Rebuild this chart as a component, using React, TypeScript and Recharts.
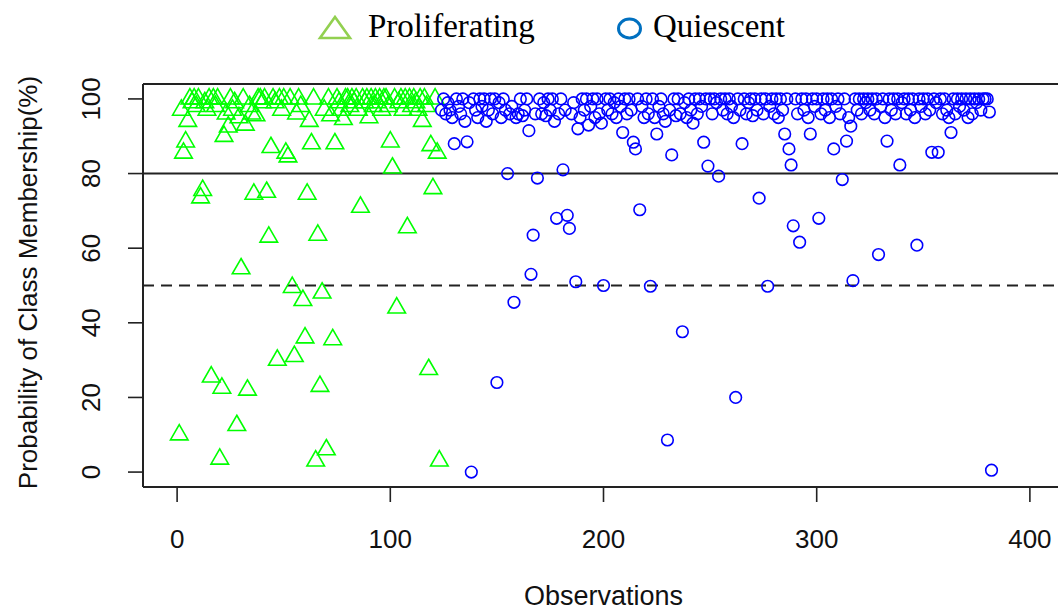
import React from 'react';
import { ScatterChart, Scatter, XAxis, YAxis, ReferenceLine } from 'recharts';

// Posterior probability (%) of class membership, one value per observation.
// Observations 1..123 are classed as proliferating.
const PROLIFERATING: number[] = [
  10, 97, 85.5, 88.5, 94, 100, 99, 100, 98, 100,
  73.5, 75.5, 99, 97, 100, 25.5, 100, 98, 100, 3.5,
  22.5, 90, 96, 92.5, 100, 97, 99, 12.5, 95, 54.5,
  100, 93, 22, 98, 96, 74.5, 95.5, 100, 100, 99,
  100, 75, 63, 87, 100, 99, 30, 100, 97, 100,
  85.5, 84.5, 100, 49.5, 31, 96, 100, 98, 46, 36,
  74.5, 94, 88, 100, 3, 63.5, 23, 48, 97, 6,
  100, 95.5, 35.5, 88, 100, 99, 97, 94.5, 100, 100,
  98, 100, 99, 100, 97, 71, 100, 99, 100, 95,
  100, 98, 100, 99, 100, 97, 100, 100, 98, 88.5,
  81.5, 100, 44, 99, 100, 97, 100, 65.5, 100, 98,
  100, 99, 97, 100, 94, 100, 98, 27.5, 87.5, 76,
  100, 85.5, 3,
];

// Observations 124..382 are classed as quiescent.
const QUIESCENT_FIRST_OBS = 124;
const QUIESCENT: number[] = [
  97, 100, 96, 99, 97, 95, 88, 100, 98, 96,
  100, 94, 88.5, 99, 0, 100, 97, 95, 100, 98,
  100, 94, 97, 100, 96, 100, 24, 99, 95, 100,
  97, 80, 96, 98, 45.5, 95, 96, 100, 95.5, 97,
  100, 91.5, 53, 63.5, 96, 78.8, 100, 96, 99, 95.5,
  100, 97, 100, 94, 68, 96, 100, 81, 97, 68.8,
  65.3, 96, 99, 51, 92, 95, 100, 97, 100, 93,
  98, 100, 95, 100, 96, 93.5, 50, 100, 97, 100,
  96, 99, 95, 100, 98, 91, 100, 96, 100, 97,
  88.4, 86.6, 100, 70.3, 98, 95, 100, 96, 49.8, 100,
  95, 90.6, 98, 100, 96, 94, 8.6, 97, 85, 100,
  95.5, 100, 96, 37.6, 99, 95, 100, 97, 93.5, 100,
  96, 100, 98, 88.4, 100, 82, 100, 96, 100, 99,
  79.3, 100, 97, 100, 96, 100, 98, 95, 20, 100,
  97, 88, 100, 96, 99, 100, 95.5, 100, 97, 73.4,
  100, 96, 100, 49.8, 98, 100, 96, 100, 95, 100,
  97, 90.6, 100, 86.6, 82.3, 66, 100, 96, 61.6, 100,
  97, 100, 95, 90.6, 100, 98, 100, 68, 96, 100,
  97, 100, 95, 100, 86.6, 98, 100, 96, 78.4, 100,
  88.7, 95, 92.7, 51.3, 100, 97, 100, 96, 100, 99,
  100, 97, 100, 96, 100, 58.3, 98, 100, 95, 88.7,
  100, 97, 100, 96, 100, 82.3, 99, 100, 96, 100,
  97, 100, 95, 60.8, 100, 98, 100, 96, 100, 97,
  85.7, 100, 99, 85.7, 100, 96, 100, 97, 95, 91,
  100, 96, 100, 98, 100, 97, 100, 95, 100, 96,
  100, 99, 100, 97, 100, 100, 100, 96.5, 0.5,
];

const X_TICKS = [0, 100, 200, 300, 400];
const Y_TICKS = [0, 20, 40, 60, 80, 100];
const X_DOMAIN: [number, number] = [-16, 416];
const Y_DOMAIN: [number, number] = [-4, 104];
const SOLID_CUTOFF = 80;
const DASHED_CUTOFF = 50;

const LEGEND_PROLIFERATING = 'Proliferating';
const LEGEND_QUIESCENT = 'Quiescent';
const X_TITLE = 'Observations';
const Y_TITLE = 'Probability of Class Membership(%)';

const proliferatingPoints = PROLIFERATING.map((y, i) => ({ x: i + 1, y }));
const quiescentPoints = QUIESCENT.map((y, i) => ({ x: i + QUIESCENT_FIRST_OBS, y }));

const WIDTH = 1058;
const HEIGHT = 613;
const AXIS_FONT = "'Liberation Sans', Arial, sans-serif";
const LEGEND_FONT = "'Liberation Serif', 'Times New Roman', serif";
const INK = '#222222';
const TEXT = '#111111';

// Open triangle, centred on its centroid.
function TriangleMark(props: any) {
  const { cx, cy } = props;
  if (cx == null || cy == null) return null;
  const up = 10.2;
  const down = 5.1;
  const half = 8.8;
  return (
    <path
      d={`M${cx},${cy - up}L${cx + half},${cy + down}L${cx - half},${cy + down}Z`}
      fill="none"
      stroke="#00ff00"
      strokeWidth={1.6}
      strokeLinejoin="miter"
    />
  );
}

// Open circle.
function CircleMark(props: any) {
  const { cx, cy } = props;
  if (cx == null || cy == null) return null;
  return <circle cx={cx} cy={cy} r={5.8} fill="none" stroke="#0000ff" strokeWidth={1.6} />;
}

function XTick(props: any) {
  const { x, y, payload } = props;
  return (
    <text
      x={x}
      y={y + 46}
      textAnchor="middle"
      fontFamily={AXIS_FONT}
      fontSize={26}
      fill={TEXT}
    >
      {payload.value}
    </text>
  );
}

function YTick(props: any) {
  const { x, y, payload } = props;
  return (
    <text
      transform={`translate(${x - 28},${y}) rotate(-90)`}
      textAnchor="middle"
      fontFamily={AXIS_FONT}
      fontSize={26}
      fill={TEXT}
    >
      {payload.value}
    </text>
  );
}

function XTitle(props: any) {
  const { viewBox } = props;
  const cx = viewBox.x + viewBox.width / 2;
  return (
    <text x={cx} y={605} textAnchor="middle" fontFamily={AXIS_FONT} fontSize={27} fill={TEXT}>
      {X_TITLE}
    </text>
  );
}

function YTitle(props: any) {
  const { viewBox } = props;
  const cy = viewBox.y + viewBox.height / 2;
  return (
    <text
      transform={`translate(37,${cy - 3}) rotate(-90)`}
      textAnchor="middle"
      fontFamily={AXIS_FONT}
      fontSize={26}
      fill={TEXT}
    >
      {Y_TITLE}
    </text>
  );
}

function LegendKey() {
  return (
    <g>
      <path d="M335,17L350,38L320,38Z" fill="none" stroke="#92d050" strokeWidth={2.6} />
      <text x={368} y={37} fontFamily={LEGEND_FONT} fontSize={33} fill="#000">
        {LEGEND_PROLIFERATING}
      </text>
      <ellipse cx={629.5} cy={28.5} rx={11} ry={9.5} fill="none" stroke="#0070c0" strokeWidth={3} />
      <text x={653} y={37} fontFamily={LEGEND_FONT} fontSize={33} fill="#000">
        {LEGEND_QUIESCENT}
      </text>
    </g>
  );
}

export default function App() {
  return (
    <div style={{ position: 'absolute', left: 0, top: 0, width: WIDTH, height: HEIGHT, background: '#fff' }}>
      <ScatterChart
        width={WIDTH}
        height={HEIGHT}
        margin={{ top: 84, right: -6, bottom: 26, left: 43 }}
      >
        <XAxis
          type="number"
          dataKey="x"
          domain={X_DOMAIN}
          ticks={X_TICKS}
          interval={0}
          height={100}
          tickSize={15}
          tickMargin={0}
          axisLine={{ stroke: INK, strokeWidth: 2 }}
          tickLine={{ stroke: INK, strokeWidth: 1.6 }}
          tick={<XTick />}
          label={<XTitle />}
        />
        <YAxis
          type="number"
          dataKey="y"
          domain={Y_DOMAIN}
          ticks={Y_TICKS}
          interval={0}
          width={100}
          tickSize={15}
          tickMargin={0}
          axisLine={{ stroke: INK, strokeWidth: 2 }}
          tickLine={{ stroke: INK, strokeWidth: 1.6 }}
          tick={<YTick />}
          label={<YTitle />}
        />
        <ReferenceLine y={Y_DOMAIN[1]} stroke={INK} strokeWidth={2} />
        <ReferenceLine y={SOLID_CUTOFF} stroke={INK} strokeWidth={2} />
        <ReferenceLine y={DASHED_CUTOFF} stroke={INK} strokeWidth={2} strokeDasharray="11 7" />
        <Scatter
          name={LEGEND_PROLIFERATING}
          data={proliferatingPoints}
          shape={<TriangleMark />}
          isAnimationActive={false}
        />
        <Scatter
          name={LEGEND_QUIESCENT}
          data={quiescentPoints}
          shape={<CircleMark />}
          isAnimationActive={false}
        />
        <LegendKey />
      </ScatterChart>
    </div>
  );
}
